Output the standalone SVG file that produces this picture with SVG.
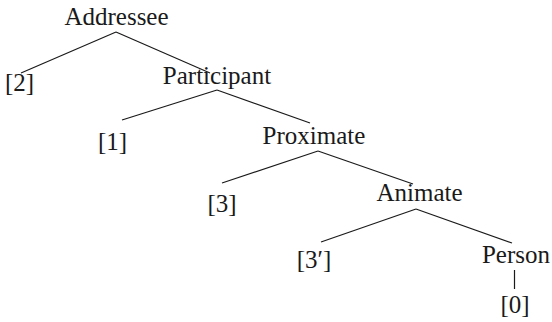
<svg xmlns="http://www.w3.org/2000/svg" width="552" height="322" viewBox="0 0 552 322">
<style>
text{font-family:"Liberation Serif","Times New Roman",serif;font-size:25px;fill:#1a1a1a;text-anchor:middle}
.e line{stroke:#1a1a1a;stroke-width:1.2;fill:none}
</style>
<rect width="552" height="322" fill="#fff"/>
<g class="e" id="connectors">
<line x1="116" y1="32" x2="21" y2="73"/>
<line x1="116" y1="32" x2="210" y2="73"/>
<line x1="217" y1="90" x2="122" y2="120"/>
<line x1="217" y1="90" x2="310" y2="123"/>
<line x1="318" y1="151" x2="222" y2="183"/>
<line x1="318" y1="151" x2="413" y2="184"/>
<line x1="416" y1="209" x2="321" y2="242"/>
<line x1="416" y1="209" x2="512" y2="243"/>
<line x1="514.5" y1="270" x2="514.5" y2="289"/>
</g>
<g id="addressee"><text x="116.5" y="25">Addressee</text></g>
<g id="n2"><text x="19.5" y="91">[2]</text></g>
<g id="participant"><text x="217" y="84">Participant</text></g>
<g id="n1"><text x="112.5" y="150">[1]</text></g>
<g id="proximate"><text x="314" y="144">Proximate</text></g>
<g id="n3"><text x="222" y="212">[3]</text></g>
<g id="animate"><text x="419.5" y="201">Animate</text></g>
<g id="n3p"><text x="314" y="268">[3′]</text></g>
<g id="person"><text x="516" y="263">Person</text></g>
<g id="n0"><text x="515" y="313">[0]</text></g>
</svg>
